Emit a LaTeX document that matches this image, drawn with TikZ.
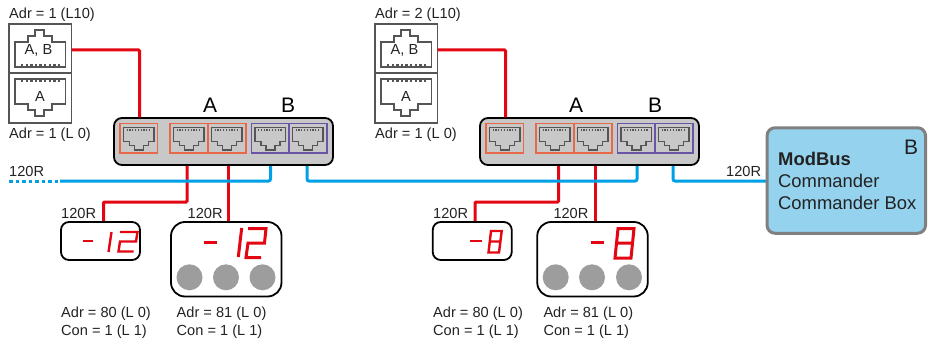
\documentclass[tikz,border=0pt]{standalone}
\usepackage{fontspec}
\setmainfont{Liberation Sans}
\definecolor{wirered}{HTML}{E30613}
\definecolor{wireblue}{HTML}{00A0E6}
\definecolor{txt}{HTML}{222222}
\definecolor{swfill}{HTML}{C8C8C8}
\definecolor{orangeb}{HTML}{E8694A}
\definecolor{purpleb}{HTML}{6A55A5}
\definecolor{iconc}{HTML}{555555}
\definecolor{boxfill}{HTML}{94D2EE}
\definecolor{boxline}{HTML}{808080}
\definecolor{btn}{HTML}{9D9D9D}
\newcommand{\smalltxt}{\fontsize{14.6}{18}\selectfont}
\tikzset{
  x=1pt,y=-1pt,
  lab/.style={anchor=base west,inner sep=0pt,text=txt,font=\smalltxt},
  labc/.style={anchor=base,inner sep=0pt,text=txt,font=\smalltxt},
  biglab/.style={anchor=base,inner sep=0pt,text=black,font=\fontsize{21}{24}\selectfont},
  boxlab/.style={anchor=base west,inner sep=0pt,text=txt,font=\fontsize{18.4}{22}\selectfont},
  redw/.style={draw=wirered,line width=3pt,rounded corners=1pt},
  bluew/.style={draw=wireblue,line width=3pt,rounded corners=2pt},
  wallbox/.style={draw=iconc,line width=1.5pt,minimum width=62.5pt,inner sep=0pt},
  sockline/.style={draw=iconc,line width=1.5pt},
  pinline/.style={draw=iconc,line width=3.2pt,dash pattern=on 2.4pt off 2.2pt},
  switchbox/.style={draw=black,line width=1.8pt,fill=swfill,rounded corners=8pt,minimum width=219pt,minimum height=47pt,inner sep=0pt},
  portb/.style={line width=1.2pt,fill=none},
  porticon/.style={draw=iconc,line width=1.6pt},
  devsmall/.style={draw=black,line width=1.8pt,fill=white,rounded corners=8pt,minimum width=79pt,minimum height=38pt,inner sep=0pt},
  devlarge/.style={draw=black,line width=1.8pt,fill=white,rounded corners=14pt,minimum width=110.5pt,minimum height=74.5pt,inner sep=0pt},
  seg/.style={draw=wirered,line width=2.4pt,line cap=butt},
  segl/.style={draw=wirered,line width=3pt,line cap=butt},
  btnc/.style={circle,fill=btn,minimum size=26pt,inner sep=0pt},
  cmdbox/.style={draw=boxline,line width=3pt,fill=boxfill,rounded corners=8pt,minimum width=158.5pt,minimum height=105.5pt,inner sep=0pt},
}
\newcommand{\porticon}[1]{%
  \draw[porticon,shift={(#1,127.5)}] (0,0)--(30.5,0)--(30.5,14)--(25,14)--(25,18)--(20,18)--(20,22.5)--(11,22.5)--(11,18)--(6,18)--(6,14)--(0,14)--cycle;
  \draw[draw=iconc,line width=2pt,dash pattern=on 1.2pt off 1.6pt,shift={(#1,127.5)}] (3,2)--(28,2);
}
\newcommand{\station}[3]{%
 \begin{scope}[shift={(#2,0)}]
  \node[lab] (#1adrtop) at (9,19) {#3};
  \node[wallbox,minimum height=49pt] (#1wallup) at (40.25,48.5) {};
  \node[wallbox,minimum height=50pt] (#1walldn) at (40.25,98) {};
  \draw[sockline] (15,42)--(28,42)--(28,36)--(35,36)--(35,30)--(44,30)--(44,36)--(52,36)--(52,42)--(65.5,42)--(65.5,67)--(15,67)--cycle;
  \draw[pinline] (21,65.5)--(60,65.5);
  \node[labc] (#1upname) at (38.5,55) {A, B};
  \draw[sockline] (15,104)--(28,104)--(28,110)--(35,110)--(35,116)--(44,116)--(44,110)--(52,110)--(52,104)--(65.5,104)--(65.5,79)--(15,79)--cycle;
  \draw[pinline] (21,80.5)--(60,80.5);
  \node[labc] (#1dnname) at (40,101.7) {A};
  \node[lab] (#1adrbot) at (9,139) {Adr = 1 (L 0)};
  \node[switchbox] (#1switch) at (223.5,141.5) {};
  \draw[portb,draw=orangeb] (120,123.5) rectangle (157.5,153);
  \draw[portb,draw=orangeb] (170,123.5) rectangle (208,153);
  \draw[portb,draw=orangeb] (208,123.5) rectangle (246,153);
  \draw[portb,draw=purpleb] (251.5,123.5) rectangle (289,153);
  \draw[portb,draw=purpleb] (289,123.5) rectangle (327,153);
  \porticon{123.5}\porticon{173.5}\porticon{211.5}\porticon{255}\porticon{292.5}
  \coordinate (#1wirein) at (71.5,50);
  \coordinate (#1bendin) at (139.5,50);
  \coordinate (#1portin) at (139.5,117.5);
 \end{scope}
}
\begin{document}
\begin{tikzpicture}
\useasboundingbox (0,0) rectangle (936,342);
\coordinate (s1a) at (187,165.5); \coordinate (s1b) at (103.5,202); \coordinate (d1t) at (103.5,222);
\coordinate (s1c) at (187,202);
\coordinate (s2a) at (228.7,165.5); \coordinate (d2t) at (228.7,222);
\coordinate (s3a) at (558.5,165.5); \coordinate (s3c) at (558.5,202); \coordinate (s3b) at (475,202); \coordinate (d3t) at (475,222);
\coordinate (s4a) at (595,165.5); \coordinate (d4t) at (595,222);
\coordinate (bdots) at (9,181); \coordinate (bstart) at (60,181);
\coordinate (bb1) at (270.5,181); \coordinate (bt1) at (270.5,165.5);
\coordinate (bt2) at (307,165.5); \coordinate (bb2) at (307,181);
\coordinate (bb3) at (637,181); \coordinate (bt3) at (637,165.5);
\coordinate (bt4) at (673,165.5); \coordinate (bb4) at (673,181); \coordinate (bend) at (767,181);
\draw[redw] (s1a)--(s1c)--(s1b)--(d1t);
\draw[redw] (s2a)--(d2t);
\draw[redw] (s3a)--(s3c)--(s3b)--(d3t);
\draw[redw] (s4a)--(d4t);
\draw[draw=wireblue,line width=3pt,dash pattern=on 3.5pt off 3pt] (bdots)--(bstart);
\draw[bluew] (bstart)--(bb1)--(bt1);
\draw[bluew] (bt2)--(bb2)--(bb3)--(bt3);
\draw[bluew] (bt4)--(bb4)--(bend);
\station{a}{0}{Adr = 1 (L10)}
\station{b}{366}{Adr = 2 (L10)}
\draw[redw] (awirein)--(abendin)--(aportin);
\draw[redw] (bwirein)--(bbendin)--(bportin);
% big port labels
\node[biglab] (aA) at (210,112.7) {A};
\node[biglab] (aB) at (288,112.7) {B};
\node[biglab] (bA) at (576,112.7) {A};
\node[biglab] (bB) at (655,112.7) {B};
% devices
\node[devsmall] (d1) at (100.5,241) {};
\node[devlarge] (d2) at (226.25,259.25) {};
\node[devsmall] (d3) at (472.25,241) {};
\node[devlarge] (d4) at (592.5,259.25) {};
\node[btnc] (c1) at (189.5,277.3) {};
\node[btnc] (c2) at (226,277.3) {};
\node[btnc] (c3) at (262.5,277.3) {};
\node[btnc] (c4) at (555.7,277.3) {};
\node[btnc] (c5) at (592,277.3) {};
\node[btnc] (c6) at (629,277.3) {};
\node[cmdbox] (cmd) at (846.3,180.5) {};
% labels
\node[lab] (r0) at (9,176) {120R};
\node[lab] (r1) at (61,218) {120R};
\node[lab] (r2) at (187.5,218) {120R};
\node[lab] (r3) at (433,218) {120R};
\node[lab] (r4) at (553.3,218) {120R};
\node[lab] (r5) at (726,176) {120R};
\node[lab] (t1) at (61,317) {Adr = 80 (L 0)};
\node[lab] (t2) at (61,335) {Con = 1 (L 1)};
\node[lab] (t3) at (176.5,317) {Adr = 81 (L 0)};
\node[lab] (t4) at (176.5,335) {Con = 1 (L 1)};
\node[lab] (t5) at (433,317) {Adr = 80 (L 0)};
\node[lab] (t6) at (433,335) {Con = 1 (L 1)};
\node[lab] (t7) at (543.3,317) {Adr = 81 (L 0)};
\node[lab] (t8) at (543.3,335) {Con = 1 (L 1)};
\node[boxlab,font=\fontsize{18.4}{22}\selectfont\bfseries] (m1) at (778,165) {ModBus};
\node[boxlab] (m2) at (778,187) {Commander};
\node[boxlab] (m3) at (778,209) {Commander Box};
\node[anchor=base,inner sep=0pt,text=txt,font=\fontsize{21}{24}\selectfont] (mB) at (911,154) {B};
% seven-segment displays
\draw[seg] (83,241)--(93,241);
\draw[seg] (111.5,232)--(108.5,252);
\draw[seg] (120,232)--(137.5,232)--(136,241.5)--(120,241.5)--(118.5,251.5)--(133.5,251.5);
\draw[segl] (204,242)--(217,242);
\draw[segl] (241.7,228)--(238.3,257);
\draw[segl] (248,228.5)--(266,228.5)--(264.5,243)--(248,243)--(246,257.5)--(261,257.5);
\draw[seg] (470,240.7)--(481.7,240.7);
\draw[seg] (491,231)--(501.7,231)--(499,252.5)--(488.5,252.5)--cycle (490,241.5)--(500.5,241.5);
\draw[segl] (590.7,242.7)--(604.3,242.7);
\draw[segl] (618,228.5)--(634,228.5)--(631,258)--(615,258)--cycle (616.5,243)--(632.5,243);
\end{tikzpicture}
\end{document}
